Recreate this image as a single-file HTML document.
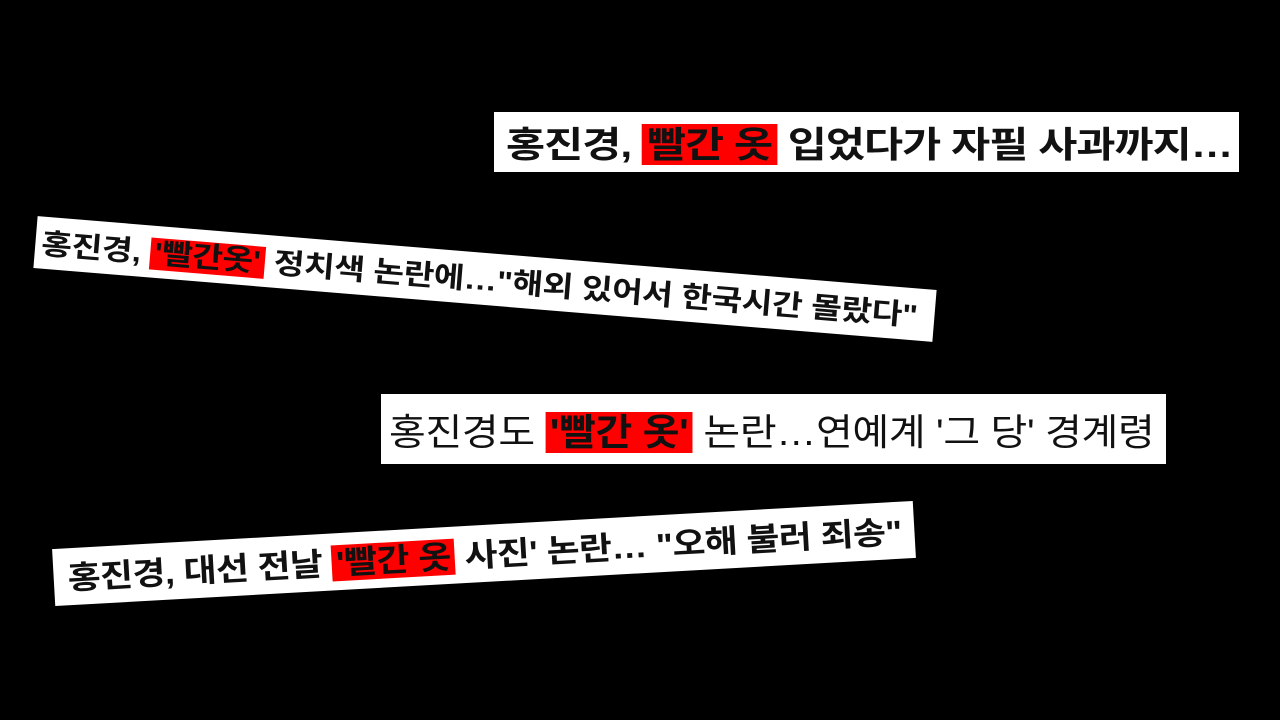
<!DOCTYPE html>
<html><head><meta charset="utf-8"><style>
html,body{margin:0;padding:0;background:#000;width:1280px;height:720px;overflow:hidden}
.b{position:absolute;background:#fff;color:#111;white-space:nowrap;font-family:"Liberation Sans","Noto Sans CJK KR","NanumGothic",sans-serif;box-sizing:border-box;display:flex;align-items:center;overflow:hidden}
.s{display:inline-block;transform-origin:left center}
.r{background:#ff0000;padding:0 4px}
</style></head><body>
<div class="b" style="left:494px;top:112px;width:745px;height:60px;font-size:36px;font-weight:bold;padding-left:12px;letter-spacing:-0.8px"><span class="s" style="transform:scaleX(1.18)">홍진경,&nbsp;<span class="r" style="line-height:46px">빨간 옷</span>&nbsp;입었다가 자필 사과까지…</span></div>
<div class="b" style="left:34px;top:253px;width:902px;height:52px;font-size:29px;font-weight:bold;padding-left:6px;transform:rotate(4.7deg);transform-origin:center;letter-spacing:-0.3px"><span class="s" style="transform:scaleX(1.15)">홍진경,&nbsp;<span class="r" style="line-height:40px">'빨간옷'</span>&nbsp;정치색 논란에…"해외 있어서 한국시간 몰랐다"</span></div>
<div class="b" style="left:381px;top:394px;width:785px;height:70px;font-size:37px;padding-left:8px;letter-spacing:-0.3px"><span class="s" style="transform:scaleX(1.08)">홍진경도&nbsp;<span class="r" style="line-height:42px;font-weight:bold">'빨간 옷'</span>&nbsp;논란…연예계 '그 당' 경계령</span></div>
<div class="b" style="left:53px;top:525px;width:862px;height:57px;font-size:32px;font-weight:bold;padding-left:14px;transform:rotate(-3.2deg);transform-origin:center;letter-spacing:-0.5px"><span class="s" style="transform:scaleX(1.12)">홍진경, 대선 전날&nbsp;<span class="r" style="line-height:46px">'빨간 옷</span>&nbsp;사진' 논란… "오해 불러 죄송"</span></div>
</body></html>
